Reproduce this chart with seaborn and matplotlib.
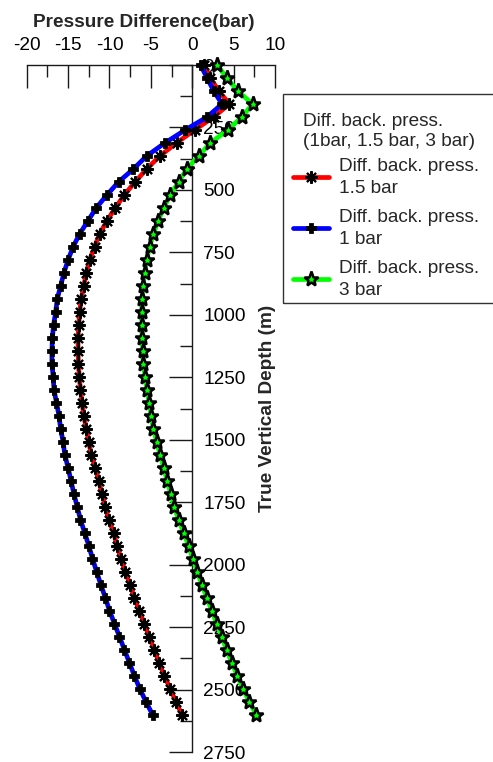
import numpy as np
import matplotlib
matplotlib.use("Agg")
import matplotlib.pyplot as plt
import seaborn as sns
from matplotlib.ticker import FixedLocator, MultipleLocator
from matplotlib.patches import Rectangle
from matplotlib.lines import Line2D

# ---------------- data ----------------
depth_m = np.arange(0, 2601, 52)

diff_1_5bar = [1.4, 2.2, 3.2, 4.5, 2.6, 0.3, -1.9, -3.9, -5.5, -6.9,
               -8.2, -9.3, -10.3, -11.2, -11.8, -12.4, -12.8, -13.1, -13.4, -13.6,
               -13.7, -13.8, -13.8, -13.75, -13.65, -13.5, -13.3, -13.1, -12.8, -12.5,
               -12.2, -11.7, -11.3, -10.9, -10.5, -10.1, -9.5, -9.1, -8.6, -8.1,
               -7.5, -7.0, -6.4, -5.8, -5.2, -4.6, -4.0, -3.4, -2.65, -2.0, -1.25]

diff_1bar = [1.0, 1.8, 2.6, 3.6, 1.8, -0.85, -3.3, -5.5, -7.1, -8.9,
             -10.3, -11.6, -12.6, -13.6, -14.4, -15.0, -15.5, -15.9, -16.3, -16.5,
             -16.75, -16.9, -16.95, -16.95, -16.8, -16.7, -16.4, -16.1, -15.9, -15.6,
             -15.4, -15.0, -14.65, -14.3, -13.9, -13.5, -13.0, -12.5, -12.05, -11.55,
             -11.05, -10.5, -10.0, -9.4, -8.8, -8.2, -7.6, -7.0, -6.35, -5.6, -4.8]

diff_3bar = [3.0, 4.2, 5.5, 7.3, 6.0, 4.3, 2.2, 0.76, -0.65, -1.65,
             -2.65, -3.45, -4.1, -4.7, -5.15, -5.5, -5.75, -5.95, -6.05, -6.1,
             -6.1, -6.05, -6.0, -5.9, -5.7, -5.5, -5.2, -5.0, -4.7, -4.3,
             -3.9, -3.45, -3.05, -2.6, -2.2, -1.65, -1.05, -0.45, 0.05, 0.6,
             1.15, 1.75, 2.35, 2.95, 3.55, 4.15, 4.75, 5.45, 6.1, 6.9, 7.7]

x_ticks = [-20, -15, -10, -5, 0, 5, 10]
y_ticks = [0, 250, 500, 750, 1000, 1250, 1500, 1750, 2000, 2250, 2500, 2750]
series_labels = ["Diff. back. press.\n1.5 bar", "Diff. back. press.\n1 bar",
                 "Diff. back. press.\n3 bar"]
legend_title = ["Diff. back. press.", "(1bar, 1.5 bar, 3 bar)"]

# ---------------- style ----------------
sns.set_style("white")
plt.rcParams["font.family"] = ["Liberation Sans", "DejaVu Sans"]
plt.rcParams["axes.unicode_minus"] = False
FS = 13.7
INK = "#1a1a1a"

W, H = 493, 762
fig = plt.figure(figsize=(W / 100, H / 100), dpi=100)
ax_l, ax_r, ax_t, ax_b = 26.7, 275.0, 65.0, 752.0
ax = fig.add_axes([ax_l / W, 1 - ax_b / H, (ax_r - ax_l) / W, (ax_b - ax_t) / H])
ax.set_facecolor("none")

RED, BLUE, GREEN = "#ff0000", "#0000ff", "#00ff00"
LW = 3.4

red_kw = dict(marker=(8, 2, 0), markersize=9, markeredgecolor="black",
              markerfacecolor="black", markeredgewidth=1.5)
blue_kw = dict(marker="P", markersize=5.8, markeredgecolor="black",
               markerfacecolor="white", markeredgewidth=2.0)
green_kw = dict(marker="*", markersize=11, markeredgecolor="black",
                markerfacecolor=GREEN, markeredgewidth=1.8)

sns.lineplot(x=diff_1_5bar, y=depth_m, sort=False, estimator=None, color=RED,
             linewidth=LW, ax=ax, zorder=3, clip_on=False, **red_kw)
ax.plot(diff_1_5bar, depth_m, linestyle="none", marker="o", markersize=3.5,
        color="black", zorder=3.1, clip_on=False)
sns.lineplot(x=diff_1bar, y=depth_m, sort=False, estimator=None, color=BLUE,
             linewidth=LW, ax=ax, zorder=4, clip_on=False, **blue_kw)
sns.lineplot(x=diff_3bar, y=depth_m, sort=False, estimator=None, color=GREEN,
             linewidth=LW, ax=ax, zorder=5, clip_on=False, **green_kw)

# ---------------- axes ----------------
ax.set_xlim(-20, 10)
ax.set_ylim(2750, 0)
ax.grid(False)
ax.set_xlabel("")
ax.set_ylabel("")
ax.xaxis.tick_top()
ax.yaxis.tick_right()
ax.spines["bottom"].set_visible(False)
ax.spines["left"].set_visible(False)
ax.spines["right"].set_position(("data", 0))
for s in ["top", "right"]:
    ax.spines[s].set_visible(True)
    ax.spines[s].set_linewidth(1.0)
    ax.spines[s].set_color(INK)

ax.xaxis.set_major_locator(FixedLocator(x_ticks))
ax.xaxis.set_minor_locator(MultipleLocator(2.5))
ax.yaxis.set_major_locator(FixedLocator(y_ticks))
ax.yaxis.set_minor_locator(MultipleLocator(125))

ax.tick_params(axis="x", which="both", direction="in", top=True, bottom=False,
               labeltop=True, labelbottom=False, pad=8, labelsize=FS,
               color=INK, labelcolor="black")
ax.tick_params(axis="y", which="both", direction="in", right=True, left=False,
               labelright=True, labelleft=False, pad=8, labelsize=FS,
               color=INK, labelcolor="black")
ax.tick_params(which="major", length=16.5, width=1.0)
ax.tick_params(which="minor", length=8.5, width=1.0)

# titles
fig.text(143.5 / W, 1 - 27 / H, "Pressure Difference(bar)", ha="center",
         va="baseline", fontsize=FS, fontweight="bold")
fig.text(268 / W, 1 - 408 / H, "True Vertical Depth (m)", rotation=90,
         ha="center", va="center", fontsize=FS, fontweight="bold")

# ---------------- legend ----------------
h_red = (Line2D([], [], color=RED, lw=LW, **red_kw),
         Line2D([], [], linestyle="none", marker="o", markersize=3.5, color="black"))
h_blue = Line2D([], [], color=BLUE, lw=LW, **blue_kw)
h_green = Line2D([], [], color=GREEN, lw=LW, **green_kw)
leg = ax.legend([h_red, h_blue, h_green], series_labels, loc="upper left",
                bbox_to_anchor=(292.7 / W, 1 - 158 / H),
                bbox_transform=fig.transFigure, frameon=False, borderpad=0,
                borderaxespad=0, handlelength=1.9, handletextpad=0.55,
                labelspacing=0.62, fontsize=FS)
for t in leg.get_texts():
    t.set_linespacing(1.4)

fig.text(303.3 / W, 1 - 125.7 / H, legend_title[0], ha="left", va="baseline",
         fontsize=FS)
fig.text(303.3 / W, 1 - 145.7 / H, legend_title[1], ha="left", va="baseline",
         fontsize=FS)
frame = Rectangle((283 / W, 1 - 303 / H), (530 - 283) / W, (303 - 94) / H,
                  transform=fig.transFigure, fill=False, edgecolor="#333333",
                  linewidth=1.0, clip_on=False)
fig.add_artist(frame)

fig.savefig("out.png", dpi=100)
